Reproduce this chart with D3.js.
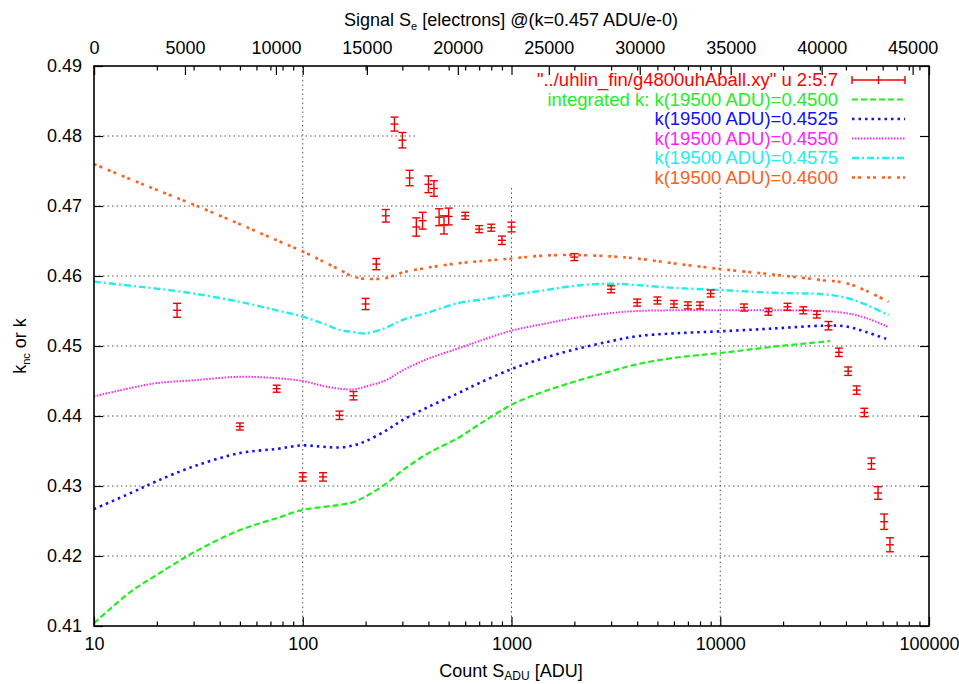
<!DOCTYPE html>
<html><head><meta charset="utf-8">
<script src="https://cdn.jsdelivr.net/npm/d3@7"></script>
<style>body{margin:0;background:#fff} text{font-family:"Liberation Sans",Arial,Helvetica,sans-serif}</style>
</head><body><svg id="c" width="959" height="684"></svg>
<script>
// ---- data ----
const ptsX = [25,50,75,100,125,150,175,200,225,250,275,300,325,350,375,400,425,450,475,500,600,700,800,900,1000,2000,3000,4000,5000,6000,7000,8000,9000,13000,17000,21000,25000,29000,33000,37000,41000,45000,49000,53000,57000,61000,65000];
const ptsK = [0.4551,0.4385,0.4439,0.4313,0.4313,0.4401,0.4429,0.4560,0.4617,0.4686,0.4817,0.4794,0.4740,0.4670,0.4679,0.4731,0.4725,0.4684,0.4673,0.4685,0.4686,0.4667,0.4669,0.4651,0.4670,0.4627,0.4581,0.4562,0.4565,0.4560,0.4558,0.4558,0.4575,0.4555,0.4549,0.4556,0.4551,0.4545,0.4529,0.4491,0.4464,0.4437,0.4405,0.4332,0.4290,0.4249,0.4216];
const ptsErr = [0.0010,0.0005,0.0005,0.0006,0.0006,0.0006,0.0006,0.0008,0.0008,0.0009,0.0010,0.0011,0.0011,0.0013,0.0012,0.0012,0.0011,0.0012,0.0013,0.0012,0.0005,0.0005,0.0005,0.0006,0.0007,0.0005,0.0005,0.0005,0.0005,0.0005,0.0005,0.0005,0.0005,0.0005,0.0005,0.0005,0.0005,0.0005,0.0006,0.0006,0.0006,0.0006,0.0006,0.0008,0.0009,0.0011,0.0010];

const curveX = [10,15,20,30,50,75,100,125,150,175,200,250,300,400,550,700,1000,1400,2000,3000,4000,6000,10000,18000,31000,40000,50000,64000];
const k4600 = [0.4760,0.4738,0.4723,0.4702,0.4674,0.4651,0.4635,0.4621,0.4609,0.4599,0.4596,0.4597,0.4605,0.4612,0.4618,0.4621,0.4625,0.4629,0.4630,0.4628,0.4625,0.4618,0.4610,0.4602,0.4594,0.4590,0.4579,0.4563];
const k4575 = [0.4592,0.4586,0.4582,0.4575,0.4563,0.4551,0.4542,0.4532,0.4523,0.4520,0.4518,0.4526,0.4537,0.4548,0.4561,0.4566,0.4573,0.4579,0.4586,0.4589,0.4587,0.4583,0.4580,0.4576,0.4574,0.4569,0.4559,0.4544];
const k4550 = [0.4428,0.4440,0.4447,0.4451,0.4456,0.4454,0.4450,0.4443,0.4439,0.4438,0.4442,0.4451,0.4465,0.4482,0.4496,0.4507,0.4522,0.4531,0.4540,0.4547,0.4550,0.4551,0.4551,0.4551,0.4550,0.4547,0.4540,0.4527];
const k4525 = [0.4267,0.4290,0.4307,0.4328,0.4347,0.4353,0.4358,0.4356,0.4355,0.4358,0.4364,0.4379,0.4394,0.4413,0.4432,0.4447,0.4467,0.4482,0.4495,0.4507,0.4514,0.4518,0.4521,0.4525,0.4529,0.4528,0.4520,0.4509];
const greenX = [10,15,20,30,50,75,100,125,150,175,200,250,300,400,550,700,1000,1400,2000,3000,4000,6000,10000,18000,33600];
const k4500 = [0.4104,0.4149,0.4173,0.4205,0.4237,0.4254,0.4266,0.4270,0.4273,0.4277,0.4285,0.4303,0.4322,0.4347,0.4368,0.4388,0.4416,0.4434,0.4449,0.4464,0.4474,0.4483,0.4490,0.4499,0.4507];

const xMajor = [10,100,1000,10000,100000];
const xGrid = [100,1000,10000];
const x2Ticks = [0,5000,10000,15000,20000,25000,30000,35000,40000,45000];
const yTicks = [0.41,0.42,0.43,0.44,0.45,0.46,0.47,0.48,0.49];
const yGrid = [0.42,0.43,0.44,0.45,0.46,0.47,0.48];
const legendLabels = ['"../uhlin_fin/g4800uhAball.xy" u 2:5:7','integrated k: k(19500 ADU)=0.4500','k(19500 ADU)=0.4525','k(19500 ADU)=0.4550','k(19500 ADU)=0.4575','k(19500 ADU)=0.4600'];

// ---- layout ----
const L=94,R=929,T=66,B=626;
const svg = d3.select("#c");
svg.append("rect").attr("width",959).attr("height",684).attr("fill","#fff");
const x = d3.scaleLog().domain([10,100000]).range([L,R]);
const x2 = d3.scaleLinear().domain([0,45900]).range([L,R]);
const y = d3.scaleLinear().domain([0.41,0.49]).range([B,T]);
const xMinor = [];
for (let d=10; d<100000; d*=10) for (let m=2;m<10;m++) xMinor.push(d*m);

// grid
const gridStyle = s => s.attr("stroke","#555").attr("stroke-width",1).attr("stroke-dasharray","1.5,3").attr("fill","none");
svg.append("g").selectAll("line").data(xGrid).join("line")
  .attr("x1",d=>x(d)).attr("x2",d=>x(d)).attr("y1",B).attr("y2",T).call(gridStyle);
svg.append("g").selectAll("line").data(yGrid).join("line")
  .attr("x1",L).attr("x2",R).attr("y1",d=>y(d)).attr("y2",d=>y(d)).call(gridStyle);

// legend box (opaque)
const legX0=415, legY1=188;
svg.append("rect").attr("x",legX0).attr("y",T+1).attr("width",R-1-legX0).attr("height",legY1-T-1).attr("fill","#fff");

// curves
const line = d3.line().x(d=>x(d[0])).y(d=>y(d[1])).curve(d3.curveCatmullRom.alpha(0.5));
const series = [
  {xs:greenX, ks:k4500, color:"#22ee22", dash:"6,3", w:2.2},
  {xs:curveX, ks:k4525, color:"#1010ff", dash:"2.5,4", w:2.6},
  {xs:curveX, ks:k4550, color:"#ff22ff", dash:"1.5,1.5", w:2},
  {xs:curveX, ks:k4575, color:"#22eeee", dash:"7,3,2,3", w:2.4},
  {xs:curveX, ks:k4600, color:"#ff6020", dash:"3,3,3,6", w:2.6}
];
series.forEach(s=>{
  svg.append("path").datum(s.xs.map((v,i)=>[v,s.ks[i]])).attr("d",line)
    .attr("fill","none").attr("stroke",s.color).attr("stroke-width",s.w).attr("stroke-dasharray",s.dash);
});

// error bars
const eb = svg.append("g").attr("stroke","#ee0000").attr("stroke-width",1.4).attr("fill","none");
ptsX.forEach((v,i)=>{
  const cx=x(v), y0=y(ptsK[i]-ptsErr[i]), y1=y(ptsK[i]+ptsErr[i]), yc=y(ptsK[i]);
  eb.append("line").attr("x1",cx).attr("x2",cx).attr("y1",y0).attr("y2",y1);
  eb.append("line").attr("x1",cx-4).attr("x2",cx+4).attr("y1",y0).attr("y2",y0);
  eb.append("line").attr("x1",cx-4).attr("x2",cx+4).attr("y1",y1).attr("y2",y1);
  eb.append("line").attr("x1",cx-4).attr("x2",cx+4).attr("y1",yc).attr("y2",yc);
});

// axes
const fs = 18;
function styleAxis(g){ g.select(".domain").remove(); g.selectAll("line").attr("stroke","#000").attr("stroke-width",1.2);
  g.selectAll("text").attr("font-size",fs).attr("fill","#000").attr("font-family",'"Liberation Sans",Arial,sans-serif'); }
svg.append("g").attr("transform",`translate(0,${B})`)
  .call(d3.axisBottom(x).tickValues(xMajor).tickFormat(d3.format("d")).tickSizeInner(-9).tickSizeOuter(0).tickPadding(11)).call(styleAxis);
svg.append("g").attr("transform",`translate(0,${B})`)
  .call(d3.axisBottom(x).tickValues(xMinor).tickFormat("").tickSizeInner(-4.5).tickSizeOuter(0)).call(styleAxis);
svg.append("g").attr("transform",`translate(0,${T})`)
  .call(d3.axisTop(x).tickValues(xMajor).tickFormat("").tickSizeInner(-9).tickSizeOuter(0)).call(styleAxis);
svg.append("g").attr("transform",`translate(0,${T})`)
  .call(d3.axisTop(x).tickValues(xMinor).tickFormat("").tickSizeInner(-4.5).tickSizeOuter(0)).call(styleAxis);
svg.append("g").attr("transform",`translate(0,${T})`)
  .call(d3.axisTop(x2).tickValues(x2Ticks).tickFormat(d3.format("d")).tickSizeInner(-9).tickSizeOuter(0).tickPadding(12)).call(styleAxis);
svg.append("g").attr("transform",`translate(${L},0)`)
  .call(d3.axisLeft(y).tickValues(yTicks).tickFormat(d3.format(".2f")).tickSizeInner(-9).tickSizeOuter(0).tickPadding(12)).call(styleAxis);
svg.append("g").attr("transform",`translate(${R},0)`)
  .call(d3.axisRight(y).tickValues(yTicks).tickFormat("").tickSizeInner(-9).tickSizeOuter(0)).call(styleAxis);

// border
svg.append("rect").attr("x",L).attr("y",T).attr("width",R-L).attr("height",B-T)
  .attr("fill","none").attr("stroke","#000").attr("stroke-width",1.6);

// legend
const legColors = ["#ff0000","#22ee22","#1010ff","#ff22ff","#22eeee","#ff6020"];
const lx1=852, lx2=905, textX=838;
legendLabels.forEach((t,i)=>{
  const yy = 80 + i*19.5;
  svg.append("text").attr("x",textX).attr("y",yy).attr("dy","0.35em").attr("text-anchor","end")
    .attr("font-size",18.5).attr("fill",legColors[i]).text(t);
  if(i===0){
    const g=svg.append("g").attr("stroke","#ee0000").attr("stroke-width",1.4);
    g.append("line").attr("x1",lx1).attr("x2",lx2).attr("y1",yy).attr("y2",yy);
    g.append("line").attr("x1",lx1).attr("x2",lx1).attr("y1",yy-4).attr("y2",yy+4);
    g.append("line").attr("x1",lx2).attr("x2",lx2).attr("y1",yy-4).attr("y2",yy+4);
    g.append("line").attr("x1",(lx1+lx2)/2).attr("x2",(lx1+lx2)/2).attr("y1",yy-4).attr("y2",yy+4);
  } else {
    const s=series[i-1];
    svg.append("line").attr("x1",lx1).attr("x2",lx2).attr("y1",yy).attr("y2",yy)
      .attr("stroke",s.color).attr("stroke-width",s.w).attr("stroke-dasharray",s.dash);
  }
});

// titles
const t1 = svg.append("text").attr("x",511).attr("y",26).attr("text-anchor","middle").attr("font-size",fs);
t1.append("tspan").text("Signal S");
t1.append("tspan").attr("font-size",11).attr("dy",4).text("e");
t1.append("tspan").attr("dy",-4).text(" [electrons] @(k=0.457 ADU/e-0)");

const t2 = svg.append("text").attr("x",511).attr("y",677).attr("text-anchor","middle").attr("font-size",fs);
t2.append("tspan").text("Count S");
t2.append("tspan").attr("font-size",12).attr("dy",3).text("ADU");
t2.append("tspan").attr("dy",-3).text(" [ADU]");

const t3 = svg.append("text").attr("transform","translate(26,346) rotate(-90)").attr("text-anchor","middle").attr("font-size",fs);
t3.append("tspan").text("k");
t3.append("tspan").attr("font-size",11).attr("dy",4).text("nc");
t3.append("tspan").attr("dy",-4).text(" or k");
</script></body></html>
